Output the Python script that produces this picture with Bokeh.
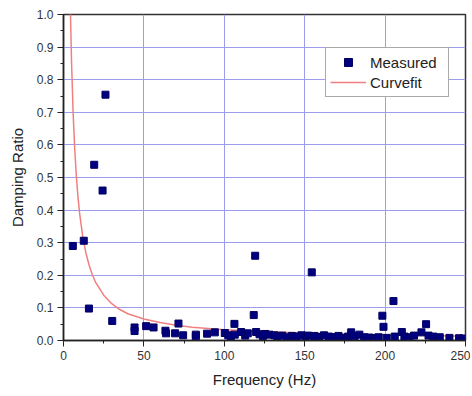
from bokeh.plotting import figure
from bokeh.models import Legend, LegendItem, Range1d, FixedTicker, NumeralTickFormatter
from bokeh.embed import file_html
from bokeh.resources import INLINE

# Measured damping ratios (frequency in Hz, damping ratio)
meas_freq = [5.8, 12.6, 15.8, 19.1, 24.3, 26.1, 30.3, 44.2, 44.2, 51.4, 56.0, 63.4, 63.8,
             69.4, 71.5, 74.4, 82.3, 82.3, 89.3, 94.1, 100.3, 102.5, 104.0, 106.3, 106.5,
             110.5, 113.0, 114.6, 118.3, 119.2, 119.8, 121.9, 124.0, 125.5, 128.1, 131.2,
             133.0, 136.0, 139.0, 142.0, 145.0, 148.0, 150.5, 152.0, 154.4, 156.0, 159.0,
             162.0, 165.0, 168.0, 171.0, 174.0, 177.0, 178.9, 181.0, 184.0, 187.0, 190.0,
             193.0, 196.0, 198.3, 199.0, 201.0, 205.2, 206.0, 210.4, 212.0, 215.0, 218.0,
             222.6, 225.5, 227.0, 230.0, 234.0, 240.0, 246.0, 249.0]
meas_damp = [0.290, 0.306, 0.098, 0.539, 0.460, 0.754, 0.060, 0.040, 0.029, 0.044, 0.040, 0.030, 0.022,
             0.022, 0.052, 0.016, 0.018, 0.013, 0.021, 0.025, 0.023, 0.016, 0.012, 0.051, 0.018,
             0.026, 0.015, 0.022, 0.078, 0.260, 0.026, 0.019, 0.014, 0.020, 0.018, 0.016,
             0.012, 0.015, 0.010, 0.014, 0.012, 0.016, 0.010, 0.015, 0.209, 0.014, 0.011,
             0.016, 0.012, 0.010, 0.014, 0.008, 0.012, 0.025, 0.013, 0.018, 0.010, 0.009,
             0.008, 0.010, 0.076, 0.042, 0.008, 0.121, 0.012, 0.026, 0.012, 0.010, 0.015,
             0.025, 0.050, 0.015, 0.012, 0.010, 0.008, 0.007, 0.006]

# Curve fit
fit_freq = [4.3, 5, 6, 7, 8, 9, 10, 12, 14, 16, 18, 20, 25, 30, 35, 40, 50, 60, 70, 80,
            100, 125, 150, 175, 200, 225, 250]
fit_damp = [1.01, 0.855, 0.696, 0.585, 0.503, 0.440, 0.391, 0.318, 0.267, 0.230, 0.201, 0.178,
            0.139, 0.113, 0.095, 0.082, 0.066, 0.055, 0.047, 0.041, 0.033, 0.027, 0.023,
            0.020, 0.017, 0.015, 0.013]

x_ticks = [0, 50, 100, 150, 200, 250]
y_ticks = [0.0, 0.1, 0.2, 0.3, 0.4, 0.5, 0.6, 0.7, 0.8, 0.9, 1.0]

FONT = "Liberation Sans"

p = figure(width=470, height=390, output_backend="svg", toolbar_location=None,
           x_range=Range1d(0, 250), y_range=Range1d(0, 1.0),
           min_border_left=63, min_border_right=5, min_border_top=14, min_border_bottom=50)

p.background_fill_color = "white"
p.border_fill_color = "white"
p.outline_line_color = "#333333"
p.outline_line_width = 1.5

fit = p.line(fit_freq, fit_damp, line_color="#f08080", line_width=1.5)
meas = p.scatter(meas_freq, meas_damp, marker="square", size=7,
                 fill_color="#000080", line_color="#000060")

p.xaxis.ticker = FixedTicker(ticks=x_ticks, minor_ticks=[25, 75, 125, 175, 225])
p.yaxis.ticker = FixedTicker(ticks=y_ticks,
                             minor_ticks=[0.05, 0.15, 0.25, 0.35, 0.45, 0.55, 0.65, 0.75, 0.85, 0.95])
p.yaxis.formatter = NumeralTickFormatter(format="0.0")

p.xaxis.axis_label = "Frequency (Hz)"
p.yaxis.axis_label = "Damping Ratio"
for ax in (p.xaxis, p.yaxis):
    ax.axis_label_text_font = FONT
    ax.axis_label_text_font_size = "15px"
    ax.axis_label_text_font_style = "normal"
    ax.axis_label_text_color = "#222222"
    ax.major_label_text_font = FONT
    ax.major_label_text_font_size = "12px"
    ax.major_label_text_color = "#333333"
    ax.axis_line_color = "#222222"
    ax.axis_line_width = 1.5
    ax.major_tick_line_color = "#222222"
    ax.minor_tick_line_color = "#222222"
    ax.major_tick_out = 6
    ax.major_tick_in = 0
    ax.minor_tick_out = 3
    ax.minor_tick_in = 0
    ax.major_label_standoff = 4
    ax.axis_label_standoff = 8

p.grid.grid_line_color = "#9c9cf0"
p.grid.grid_line_width = 1
p.xgrid.ticker = FixedTicker(ticks=x_ticks)
p.ygrid.ticker = FixedTicker(ticks=y_ticks)

legend = Legend(items=[LegendItem(label="Measured", renderers=[meas]),
                       LegendItem(label="Curvefit", renderers=[fit])],
                location=(262, 243))
legend.label_text_font = FONT
legend.label_text_font_size = "15px"
legend.label_text_color = "#222222"
legend.border_line_color = "#555555"
legend.border_line_width = 1
legend.background_fill_color = "white"
legend.background_fill_alpha = 1
legend.padding = 4
legend.spacing = 0
legend.margin = 0
legend.glyph_width = 36
legend.glyph_height = 20
legend.label_height = 20
legend.label_width = 74
legend.label_standoff = 4
p.add_layout(legend, "center")

open("out.html", "w").write(file_html(p, INLINE))
